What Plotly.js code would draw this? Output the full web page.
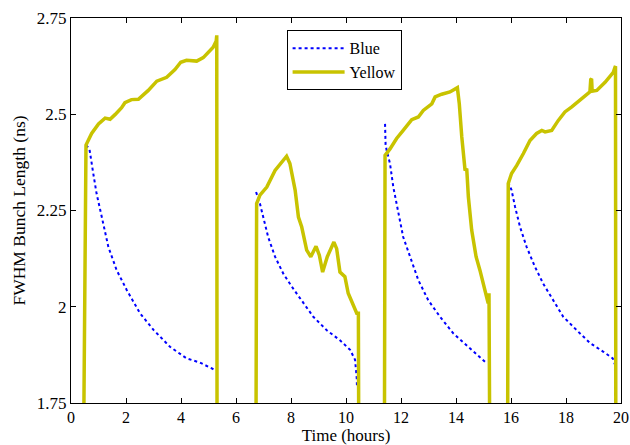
<!DOCTYPE html>
<html>
<head>
<meta charset="utf-8">
<script src="https://cdn.plot.ly/plotly-3.0.1.min.js"></script>
<style>html,body{margin:0;padding:0;background:#fff;}#chart{width:630px;height:445px;}</style>
</head>
<body>
<div id="chart"></div>
<script>
// Blue beam: four fills
const blueX1 = [0.55, 0.67, 0.81, 0.93, 1.12, 1.36, 1.66, 2.03, 2.51, 3.0, 3.6, 4.2, 4.69, 5.2];
const blueY1 = [2.42, 2.41, 2.346, 2.294, 2.233, 2.155, 2.095, 2.043, 1.983, 1.94, 1.896, 1.866, 1.855, 1.837];
const blueX2 = [6.73, 6.87, 6.99, 7.17, 7.42, 7.72, 8.08, 8.45, 8.81, 9.3, 9.78, 10.15, 10.33, 10.39, 10.4];
const blueY2 = [2.298, 2.268, 2.233, 2.181, 2.13, 2.086, 2.047, 2.009, 1.974, 1.939, 1.913, 1.888, 1.862, 1.814, 1.79];
const blueX3 = [11.42, 11.44, 11.48, 11.6, 11.72, 11.9, 12.08, 12.33, 12.63, 12.99, 13.42, 13.9, 14.39, 14.75, 15.12];
const blueY3 = [2.475, 2.42, 2.406, 2.372, 2.311, 2.242, 2.181, 2.13, 2.069, 2.017, 1.974, 1.931, 1.9, 1.879, 1.853];
const blueX4 = [15.9, 16.02, 16.15, 16.33, 16.57, 16.87, 17.17, 17.54, 17.9, 18.39, 18.87, 19.36, 19.7, 19.78, 19.79];
const blueY4 = [2.324, 2.303, 2.259, 2.207, 2.155, 2.104, 2.06, 2.017, 1.974, 1.939, 1.906, 1.883, 1.866, 1.85, 1.75];

// Yellow beam: four fills
const yellowX1 = [0.47, 0.5, 0.52, 0.545, 0.75, 1.0, 1.24, 1.42, 1.6, 1.84, 1.96, 2.2, 2.45, 2.81, 3.12, 3.48, 3.78, 3.99, 4.2, 4.57, 4.81, 4.99, 5.17, 5.28, 5.3, 5.31];
const yellowY1 = [1.75, 2.0, 2.3, 2.42, 2.45, 2.475, 2.49, 2.487, 2.499, 2.517, 2.53, 2.538, 2.539, 2.562, 2.586, 2.596, 2.616, 2.635, 2.64, 2.638, 2.647, 2.661, 2.674, 2.69, 2.705, 1.75];
const yellowX2 = [6.73, 6.75, 6.87, 7.12, 7.42, 7.66, 7.84, 7.96, 8.15, 8.27, 8.39, 8.57, 8.72, 8.91, 9.03, 9.15, 9.32, 9.56, 9.66, 9.78, 9.96, 10.08, 10.27, 10.39, 10.45, 10.46];
const yellowY2 = [1.75, 2.268, 2.29, 2.311, 2.354, 2.376, 2.391, 2.372, 2.303, 2.233, 2.207, 2.147, 2.13, 2.157, 2.134, 2.09, 2.13, 2.168, 2.151, 2.09, 2.078, 2.035, 2.0, 1.983, 1.983, 1.75];
const yellowX3 = [11.4, 11.42, 11.6, 11.84, 12.08, 12.39, 12.63, 12.81, 13.12, 13.24, 13.48, 13.78, 14.05, 14.12, 14.21, 14.33, 14.39, 14.45, 14.57, 14.73, 14.87, 15.05, 15.17, 15.2, 15.22];
const yellowY3 = [1.75, 2.393, 2.41, 2.437, 2.458, 2.486, 2.493, 2.51, 2.527, 2.545, 2.552, 2.558, 2.569, 2.527, 2.441, 2.354, 2.359, 2.285, 2.199, 2.13, 2.095, 2.043, 2.009, 2.035, 1.75];
const yellowX4 = [15.88, 15.9, 16.02, 16.21, 16.45, 16.69, 16.93, 17.12, 17.24, 17.48, 17.72, 17.96, 18.21, 18.51, 18.75, 18.87, 18.9, 18.93, 18.95, 19.12, 19.42, 19.72, 19.78, 19.8, 19.81];
const yellowY4 = [1.75, 2.32, 2.346, 2.367, 2.398, 2.432, 2.45, 2.458, 2.454, 2.458, 2.484, 2.506, 2.519, 2.536, 2.549, 2.558, 2.59, 2.592, 2.56, 2.562, 2.583, 2.609, 2.622, 2.625, 1.75];

const seriesNames = ["Blue", "Yellow"];
const xTickVals = [0, 2, 4, 6, 8, 10, 12, 14, 16, 18, 20];
const yTickVals = [1.75, 2, 2.25, 2.5, 2.75];
const yTickText = ["1.75", "2", "2.25", "2.5", "2.75"];

function join(xs, ys) {
  const X = [], Y = [];
  xs.forEach((x, i) => {
    if (i > 0) { X.push(null); Y.push(null); }
    X.push(...x); Y.push(...ys[i]);
  });
  return {X, Y};
}
const blue = join([blueX1, blueX2, blueX3, blueX4], [blueY1, blueY2, blueY3, blueY4]);
const yellow = join([yellowX1, yellowX2, yellowX3, yellowX4], [yellowY1, yellowY2, yellowY3, yellowY4]);

const font = {family: "Liberation Serif, Times New Roman, serif", color: "#000"};
const f = (s) => Object.assign({size: s}, font);

const traces = [
  {x: blue.X, y: blue.Y, name: seriesNames[0], mode: "lines", connectgaps: false,
   line: {color: "#0000ff", width: 2, dash: "dot"}},
  {x: yellow.X, y: yellow.Y, name: seriesNames[1], mode: "lines", connectgaps: false,
   line: {color: "#c8c300", width: 3.5}}
];

const axisCommon = {
  showline: true, linecolor: "#000", linewidth: 1, mirror: "ticks",
  ticks: "inside", ticklen: 5, tickcolor: "#000", tickwidth: 1,
  showgrid: false, zeroline: false,
  tickfont: f(17)
};

const layout = {
  width: 630, height: 445,
  margin: {l: 71, r: 9, t: 18, b: 42},
  paper_bgcolor: "#fff", plot_bgcolor: "#fff",
  font: font,
  showlegend: true,
  legend: {x: 0.392, y: 0.968, xanchor: "left", yanchor: "top",
    bordercolor: "#000", borderwidth: 1, bgcolor: "#fff",
    font: f(16), tracegroupgap: 0, itemwidth: 52, entrywidth: 70},
  xaxis: Object.assign({}, axisCommon, {range: [0, 20], tickvals: xTickVals,
    tickfont: f(16),
    title: {text: "Time (hours)", font: f(17), standoff: 1}}),
  yaxis: Object.assign({}, axisCommon, {range: [1.75, 2.75], tickvals: yTickVals, ticktext: yTickText,
    title: {text: "FWHM Bunch Length (ns)", font: f(17.5), standoff: 6}})
};

Plotly.newPlot("chart", traces, layout, {staticPlot: true, displayModeBar: false});
</script>
</body>
</html>
